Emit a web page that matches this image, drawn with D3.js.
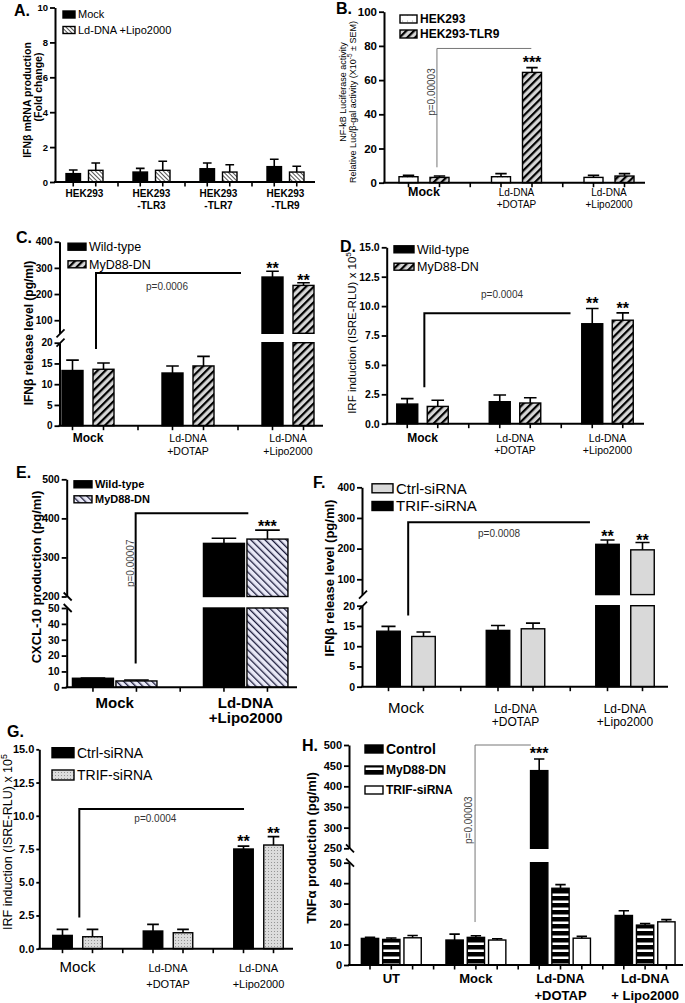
<!DOCTYPE html>
<html>
<head>
<meta charset="utf-8">
<script src="https://cdn.jsdelivr.net/npm/d3@7"></script>
<style>
  body { margin: 0; background: #fff; }
  svg { display: block; }
  text { font-family: "Liberation Sans", Arial, sans-serif; fill: #000; }
</style>
</head>
<body>
<script>
// ---- data ----

// A. IFNb mRNA, fold change
const aGroups = ["HEK293", "HEK293\n-TLR3", "HEK293\n-TLR7", "HEK293\n-TLR9"];
const aMock = [0.48, 0.57, 0.76, 0.88];
const aMockErr = [0.21, 0.21, 0.33, 0.42];
const aLipo = [0.67, 0.67, 0.57, 0.57];
const aLipoErr = [0.42, 0.52, 0.42, 0.33];

// B. NF-kB luciferase
const bGroups = ["Mock", "Ld-DNA\n+DOTAP", "Ld-DNA\n+Lipo2000"];
const bHek = [3.5, 3.5, 3.1];
const bHekErr = [0.8, 1.8, 1.2];
const bTlr9 = [3.1, 64.5, 3.9];
const bTlr9Err = [0.8, 2.8, 1.4];

// C. IFNb release (pg/ml)
const cGroups = ["Mock", "Ld-DNA\n+DOTAP", "Ld-DNA\n+Lipo2000"];
const cWt = [13.3, 12.7, 265];
const cWtErr = [2.5, 1.7, 22];
const cMyd = [13.6, 14.4, 233];
const cMydErr = [1.5, 2.3, 10];

// D. IRF induction
const dGroups = ["Mock", "Ld-DNA\n+DOTAP", "Ld-DNA\n+Lipo2000"];
const dWt = [1.67, 1.87, 8.5];
const dWtErr = [0.46, 0.57, 1.3];
const dMyd = [1.47, 1.76, 8.8];
const dMydErr = [0.53, 0.45, 0.62];

// E. CXCL-10 production
const eGroups = ["Mock", "Ld-DNA\n+Lipo2000"];
const eWt = [5.7, 336];
const eWtErr = [0.2, 13];
const eMyd = [4.0, 347];
const eMydErr = [0.6, 23];

// F. IFNb release, siRNA
const fGroups = ["Mock", "Ld-DNA\n+DOTAP", "Ld-DNA\n+Lipo2000"];
const fFirst = [13.7, 13.9, 214];
const fFirstErr = [1.2, 1.2, 14];
const fSecond = [12.4, 14.3, 196];
const fSecondErr = [1.1, 1.4, 24];

// G. IRF induction, siRNA
const gGroups = ["Mock", "Ld-DNA\n+DOTAP", "Ld-DNA\n+Lipo2000"];
const gCtrl = [1.0, 1.33, 7.5];
const gCtrlErr = [0.45, 0.5, 0.22];
const gTrif = [0.9, 1.2, 7.8];
const gTrifErr = [0.55, 0.25, 0.63];

// H. TNFa production
const hGroups = ["UT", "Mock", "Ld-DNA\n+DOTAP", "Ld-DNA\n+ Lipo2000"];
const hControl = [13.0, 12.2, 438, 24.2];
const hControlErr = [0.5, 2.9, 28, 2.3];
const hMyd = [12.5, 13.5, 37.5, 19.5];
const hMydErr = [0.7, 0.8, 1.8, 0.8];
const hTrif = [13.3, 12.2, 13.1, 21.1];
const hTrifErr = [1.1, 0.6, 0.9, 1.1];

// ---- drawing ----
const SANS = '"Liberation Sans", Arial, sans-serif';
const NARROW = '"Liberation Sans Narrow", "DejaVu Sans Condensed", sans-serif';

const svg = d3.select("body").append("svg").attr("width", 685).attr("height", 1003);
const defs = svg.append("defs");

function stripes(id, size, angle, bg, color, lw) {
  const p = defs.append("pattern").attr("id", id)
    .attr("patternUnits", "userSpaceOnUse")
    .attr("width", size).attr("height", size)
    .attr("patternTransform", `rotate(${angle})`);
  p.append("rect").attr("width", size).attr("height", size).attr("fill", bg);
  p.append("rect").attr("width", lw).attr("height", size).attr("fill", color);
}
function dots(id, sx, sy, bg, color, r) {
  const p = defs.append("pattern").attr("id", id)
    .attr("patternUnits", "userSpaceOnUse")
    .attr("width", sx).attr("height", sy);
  p.append("rect").attr("width", sx).attr("height", sy).attr("fill", bg);
  p.append("circle").attr("cx", sx / 2).attr("cy", sy / 2).attr("r", r).attr("fill", color);
}
stripes("hatchA", 3, -45, "#fff", "#555", 1);
stripes("hatchFwd", 5.5, 45, "#d6d6d6", "#000", 2.2);
stripes("hatchE", 5, -45, "#e9e9f7", "#1c1c3c", 1.3);
dots("dotsB", 5, 6, "#fff", "#999", 0.6);
dots("dotsG", 3, 3, "#dcdcdc", "#888", 0.55);
{
  const p = defs.append("pattern").attr("id", "stripesH")
    .attr("patternUnits", "userSpaceOnUse").attr("width", 10).attr("height", 7);
  p.append("rect").attr("width", 10).attr("height", 7).attr("fill", "#fff");
  p.append("rect").attr("width", 10).attr("height", 4.5).attr("fill", "#000");
}

function drawPanel(p) {
  const g = svg.append("g");
  const n = p.series.length;
  const x = d3.scaleBand().domain(p.groups).range(p.band);
  const mid = k => x(k) + x.bandwidth() / 2;
  const bx = (k, i) => mid(k) + (i - (n - 1) / 2) * p.pitch;
  const pos = t => mid(p.groups[0]) + t * x.step();
  const yLo = d3.scaleLinear().domain(p.low).range(p.lowRange);
  const yHi = p.high ? d3.scaleLinear().domain(p.high).range(p.highRange) : null;
  const y = v => (yHi && v > p.low[1]) ? yHi(v) : yLo(v);
  const y0 = yLo(0);
  const tk = p.tickLen || 5;

  // bars
  p.series.forEach((s, i) => {
    const rows = p.groups.map((k, j) => ({ k, v: s.values[j], e: s.errors[j] }));
    const sg = g.append("g");
    sg.selectAll("rect.lo").data(rows).join("rect").attr("class", "lo")
      .attr("x", d => bx(d.k, i) - p.barW / 2).attr("width", p.barW)
      .attr("y", d => yLo(Math.min(d.v, p.low[1])))
      .attr("height", d => y0 - yLo(Math.min(d.v, p.low[1])))
      .attr("fill", s.fill).attr("stroke", "#000").attr("stroke-width", 1.4);
    if (yHi) {
      sg.selectAll("rect.hi").data(rows.filter(d => d.v > p.low[1])).join("rect").attr("class", "hi")
        .attr("x", d => bx(d.k, i) - p.barW / 2).attr("width", p.barW)
        .attr("y", d => yHi(d.v))
        .attr("height", d => yHi(p.high[0]) - yHi(d.v))
        .attr("fill", s.fill).attr("stroke", "#000").attr("stroke-width", 1.4);
    }
    sg.selectAll("path.err").data(rows).join("path").attr("class", "err")
      .attr("d", d => {
        const cx = bx(d.k, i), c = p.barW * 0.3;
        const t = y(d.v + d.e);
        return `M${cx},${y(d.v)}V${t}M${cx - c},${t}H${cx + c}`;
      })
      .attr("stroke", "#000").attr("stroke-width", 1.6).attr("fill", "none");
  });

  // y axis
  const styleAxis = sel => {
    sel.select(".domain").attr("stroke-width", 2);
    sel.selectAll(".tick line").attr("stroke-width", 1.8);
    sel.selectAll(".tick text").attr("font-family", SANS).attr("font-weight", "bold")
      .attr("font-size", p.tickSize);
  };
  const ax = g.append("g").attr("transform", `translate(${p.axisX},0)`);
  ax.append("g").call(d3.axisLeft(yLo).tickValues(p.lowTicks).tickFormat(d3.format(p.fmt))
    .tickSize(tk).tickPadding(2).tickSizeOuter(0)).call(styleAxis);
  if (yHi) {
    ax.append("g").call(d3.axisLeft(yHi).tickValues(p.highTicks).tickFormat(d3.format(p.fmt))
      .tickSize(tk).tickPadding(2).tickSizeOuter(0)).call(styleAxis);
    const sl = p.slash === "/" ? -1 : 1;
    [yLo(p.low[1]), yHi(p.high[0])].forEach(yb => {
      ax.append("path").attr("d", `M-3,${yb - 4 * sl}L5,${yb + 4 * sl}`)
        .attr("stroke", "#000").attr("stroke-width", 1.8);
    });
  }

  // x axis with ticks under bars and between groups
  g.append("line").attr("x1", p.axisX - 1).attr("x2", p.xEnd).attr("y1", y0).attr("y2", y0)
    .attr("stroke", "#000").attr("stroke-width", 2);
  const tx = [];
  p.groups.forEach((k, j) => {
    p.series.forEach((s, i) => tx.push(bx(k, i)));
    if (j > 0) tx.push(x(k));
  });
  g.selectAll("line.xt").data(tx).join("line").attr("class", "xt")
    .attr("x1", d => d).attr("x2", d => d).attr("y1", y0).attr("y2", y0 + 4.5)
    .attr("stroke", "#000").attr("stroke-width", 1.6);

  // category labels
  p.groups.forEach(k => {
    const lines = k.split("\n");
    lines.forEach((t, li) => {
      const single = lines.length === 1;
      g.append("text").attr("x", mid(k)).attr("y", li === 0 ? p.lab.y1 : p.lab.y2)
        .attr("text-anchor", "middle")
        .attr("font-family", p.lab.family || SANS)
        .attr("font-weight", single ? p.lab.w1 : p.lab.w2)
        .attr("font-size", single ? p.lab.s1 : p.lab.s2)
        .text(t);
    });
  });

  // panel letter
  g.append("text").attr("x", p.letter[1]).attr("y", p.letter[2])
    .attr("font-weight", "bold").attr("font-size", 16).text(p.letter[0]);

  // y title
  p.ytitle.forEach(t => {
    const el = g.append("text").attr("transform", `translate(${t.x},${t.y}) rotate(-90)`)
      .attr("text-anchor", "middle").attr("dy", "0.35em")
      .attr("font-family", t.family || SANS)
      .attr("font-weight", t.w || "bold").attr("font-size", t.s);
    if (t.sup) {
      el.append("tspan").text(t.text);
      el.append("tspan").attr("font-size", t.s * 0.7).attr("dy", -t.s * 0.4).text(t.sup);
      if (t.tail) el.append("tspan").attr("dy", t.s * 0.4).text(t.tail);
    } else el.text(t.text);
  });

  // significance bracket
  const b = p.bracket;
  if (b) {
    g.append("path")
      .attr("d", `M${pos(b.from)},${y(b.bottom)}V${y(b.top)}H${pos(b.to)}`)
      .attr("fill", "none").attr("stroke", b.color).attr("stroke-width", b.width);
  }
  const pt = p.ptext;
  if (pt && pt.rotate) {
    g.append("text").attr("transform", `translate(${pos(pt.at)},${y(pt.v)}) rotate(-90)`)
      .attr("text-anchor", "middle").attr("dy", "0.35em")
      .attr("font-size", pt.s).style("fill", "#444").text(pt.text);
  } else if (pt) {
    g.append("text").attr("x", pos(pt.at)).attr("y", y(pt.v))
      .attr("text-anchor", "middle").attr("font-size", pt.s).style("fill", "#333").text(pt.text);
  }
  p.stars.forEach(st => {
    const s = p.series[st.s], j = st.g;
    g.append("text").attr("x", bx(p.groups[j], st.s)).attr("y", y(s.values[j] + s.errors[j]) + st.dy)
      .attr("text-anchor", "middle").attr("font-weight", "bold").attr("font-size", st.size)
      .text(st.text);
  });

  // legend
  const L = p.legend;
  L.items.forEach((it, i) => {
    const cy = L.y[i];
    g.append("rect").attr("x", L.x).attr("y", cy - L.h / 2).attr("width", L.w).attr("height", L.h)
      .attr("fill", it.fill).attr("stroke", "#000").attr("stroke-width", 1.4);
    g.append("text").attr("x", L.x + L.w + 3).attr("y", cy).attr("dy", "0.36em")
      .attr("font-family", L.family || SANS).attr("font-weight", it.w || L.weight)
      .attr("font-size", it.s || L.s).text(it.label);
  });
}

// A
drawPanel({
  groups: aGroups, band: [51, 319], pitch: 22.5, barW: 14.5,
  series: [
    { values: aMock, errors: aMockErr, fill: "#000" },
    { values: aLipo, errors: aLipoErr, fill: "url(#hatchA)" }
  ],
  axisX: 55, xEnd: 315, low: [0, 10], lowRange: [182, 7.5],
  lowTicks: [0, 2, 4, 6, 8, 10], fmt: "d", tickSize: 9.5,
  lab: { y1: 197, y2: 209, s1: 10, s2: 10, w1: "bold", w2: "bold" },
  letter: ["A.", 14, 16],
  ytitle: [
    { text: "IFNβ mRNA production", x: 27.5, y: 100, s: 10.5 },
    { text: "(Fold change)", x: 38.5, y: 87, s: 10.5 }
  ],
  stars: [],
  legend: {
    x: 63, y: [14.5, 30], w: 12, h: 7, s: 11, weight: "normal", family: NARROW,
    items: [{ fill: "#000", label: "Mock" }, { fill: "url(#hatchA)", label: "Ld-DNA +Lipo2000" }]
  }
});

// B
drawPanel({
  groups: bGroups, band: [377.75, 655.25], pitch: 31, barW: 19,
  series: [
    { values: bHek, errors: bHekErr, fill: "url(#dotsB)" },
    { values: bTlr9, errors: bTlr9Err, fill: "url(#hatchFwd)" }
  ],
  axisX: 384, xEnd: 645, low: [0, 100], lowRange: [182.7, 11.7],
  lowTicks: d3.range(0, 101, 20), fmt: "d", tickSize: 11.5,
  lab: { y1: 196, y2: 208, s1: 12.5, s2: 10, w1: "bold", w2: "normal" },
  letter: ["B.", 336, 14],
  ytitle: [
    { text: "NF-kB Luciferase activity", x: 343, y: 92, s: 9, w: "normal" },
    { text: "Relative Luc/β-gal activity (X10", sup: "-5", tail: " ± SEM)", x: 352.5, y: 102, s: 9, w: "normal" }
  ],
  bracket: { from: 0.14, to: 1.16, bottom: 9, top: 78.5, color: "#777", width: 1 },
  ptext: { text: "p=0.00003", at: 0.076, v: 53, s: 10, rotate: true },
  stars: [{ g: 1, s: 1, text: "***", size: 16, dy: 0 }],
  legend: {
    x: 400, y: [19, 34], w: 17, h: 8, s: 12, weight: "bold",
    items: [{ fill: "url(#dotsB)", label: "HEK293" }, { fill: "url(#hatchFwd)", label: "HEK293-TLR9" }]
  }
});

// C
drawPanel({
  groups: cGroups, band: [38, 338], pitch: 31, barW: 21,
  series: [
    { values: cWt, errors: cWtErr, fill: "#000" },
    { values: cMyd, errors: cMydErr, fill: "url(#hatchFwd)" }
  ],
  axisX: 59.5, xEnd: 323,
  low: [0, 20], lowRange: [425.7, 342.7], high: [50, 400], highRange: [333.3, 241.7],
  lowTicks: [0, 5, 10, 15, 20], highTicks: [100, 200, 300, 400], fmt: "d", tickSize: 10,
  slash: "/",
  lab: { y1: 442, y2: 455, s1: 12, s2: 10.5, w1: "bold", w2: "normal" },
  letter: ["C.", 16, 243],
  ytitle: [{ text: "IFNβ release level (pg/ml)", x: 29, y: 333, s: 12 }],
  bracket: { from: 0.08, to: 1.53, bottom: 18.5, top: 280, color: "#000", width: 2 },
  ptext: { text: "p=0.0006", at: 0.79, v: 214, s: 10 },
  stars: [{ g: 2, s: 0, text: "**", size: 16, dy: 3 }, { g: 2, s: 1, text: "**", size: 16, dy: 3 }],
  legend: {
    x: 68, y: [246.7, 264.3], w: 18, h: 7, s: 12.5, weight: "normal",
    items: [{ fill: "#000", label: "Wild-type" }, { fill: "url(#hatchFwd)", label: "MyD88-DN" }]
  }
});

// D
drawPanel({
  groups: dGroups, band: [376.25, 653.75], pitch: 30.5, barW: 21,
  series: [
    { values: dWt, errors: dWtErr, fill: "#000" },
    { values: dMyd, errors: dMydErr, fill: "url(#hatchFwd)" }
  ],
  axisX: 386.7, xEnd: 644, low: [0, 15], lowRange: [423.7, 247.3],
  lowTicks: d3.range(0, 15.1, 2.5), fmt: ".1f", tickSize: 10.5,
  lab: { y1: 442, y2: 454, s1: 12, s2: 10.5, w1: "bold", w2: "normal" },
  letter: ["D.", 340, 252],
  ytitle: [{ text: "IRF induction (ISRE-RLU) x 10", sup: "5", x: 351.5, y: 333, s: 11.5, w: "normal" }],
  bracket: { from: 0.02, to: 1.6, bottom: 3.1, top: 9.4, color: "#000", width: 2 },
  ptext: { text: "p=0.0004", at: 0.86, v: 10.7, s: 10 },
  stars: [{ g: 2, s: 0, text: "**", size: 16, dy: 1 }, { g: 2, s: 1, text: "**", size: 16, dy: 1 }],
  legend: {
    x: 394, y: [249.3, 266.7], w: 20, h: 7, s: 12.5, weight: "normal",
    items: [{ fill: "#000", label: "Wild-type" }, { fill: "url(#hatchFwd)", label: "MyD88-DN" }]
  }
});

// E
drawPanel({
  groups: eGroups, band: [49.2, 311.2], pitch: 43.5, barW: 41,
  series: [
    { values: eWt, errors: eWtErr, fill: "#000" },
    { values: eMyd, errors: eMydErr, fill: "url(#hatchE)" }
  ],
  axisX: 66.7, xEnd: 297,
  low: [0, 50], lowRange: [687.3, 608], high: [200, 500], highRange: [596.5, 479.3],
  lowTicks: d3.range(0, 51, 10), highTicks: [200, 300, 400, 500], fmt: "d", tickSize: 10.5,
  slash: "\\",
  lab: { y1: 708, y2: 723, s1: 15, s2: 15, w1: "bold", w2: "bold" },
  letter: ["E.", 16, 478],
  ytitle: [{ text: "CXCL-10 production (pg/ml)", x: 36, y: 577, s: 13 }],
  bracket: { from: 0.16, to: 1.02, bottom: 15, top: 413, color: "#000", width: 2 },
  ptext: { text: "p=0.00007", at: 0.117, v: 285, s: 10, rotate: true },
  stars: [{ g: 1, s: 1, text: "***", size: 16, dy: 2 }],
  legend: {
    x: 74, y: [484.3, 499.3], w: 18, h: 7, s: 11, weight: "bold",
    items: [{ fill: "#000", label: "Wild-type" }, { fill: "url(#hatchE)", label: "MyD88-DN" }]
  }
});

// F
drawPanel({
  groups: fGroups, band: [351.25, 679.75], pitch: 35, barW: 23.5,
  series: [
    { values: fFirst, errors: fFirstErr, fill: "#000" },
    { values: fSecond, errors: fSecondErr, fill: "#d9d9d9" }
  ],
  axisX: 362, xEnd: 668,
  low: [0, 20], lowRange: [686.7, 605.7], high: [50, 400], highRange: [594.6, 487.3],
  lowTicks: [0, 5, 10, 15, 20], highTicks: [100, 200, 300, 400], fmt: "d", tickSize: 10.5,
  slash: "/",
  lab: { y1: 713, y2: 726, s1: 15, s2: 12, w1: "normal", w2: "normal" },
  letter: ["F.", 313, 488],
  ytitle: [{ text: "IFNβ release level (pg/ml)", x: 329, y: 578, s: 13 }],
  bracket: { from: 0.02, to: 1.68, bottom: 17.6, top: 286, color: "#000", width: 2 },
  ptext: { text: "p=0.0008", at: 0.85, v: 239, s: 10 },
  stars: [{ g: 2, s: 0, text: "**", size: 16, dy: 2 }, { g: 2, s: 1, text: "**", size: 16, dy: 4 }],
  legend: {
    x: 372, y: [488.3, 506], w: 21, h: 9, s: 15, weight: "normal",
    items: [{ fill: "#d9d9d9", label: "Ctrl-siRNA" }, { fill: "#000", label: "TRIF-siRNA" }]
  }
});

// G
drawPanel({
  groups: gGroups, band: [32.25, 303.75], pitch: 30, barW: 19.5,
  series: [
    { values: gCtrl, errors: gCtrlErr, fill: "#000" },
    { values: gTrif, errors: gTrifErr, fill: "url(#dotsG)" }
  ],
  axisX: 39.3, xEnd: 293, low: [0, 15], lowRange: [948.7, 749.3],
  lowTicks: d3.range(0, 15.1, 2.5), fmt: ".1f", tickSize: 11, tickLen: 3,
  lab: { y1: 972, y2: 988, s1: 15, s2: 11, w1: "normal", w2: "normal", family: NARROW },
  letter: ["G.", 7, 737],
  ytitle: [{ text: "IRF induction (ISRE-RLU) x 10", sup: "5", x: 8, y: 842, s: 12.5, w: "normal" }],
  bracket: { from: 0.02, to: 1.84, bottom: 2.35, top: 10.5, color: "#000", width: 2 },
  ptext: { text: "p=0.0004", at: 0.86, v: 9.55, s: 10 },
  stars: [{ g: 2, s: 0, text: "**", size: 16, dy: 1 }, { g: 2, s: 1, text: "**", size: 16, dy: 2 }],
  legend: {
    x: 52, y: [752.7, 775], w: 22, h: 10, s: 14, weight: "normal", family: NARROW,
    items: [{ fill: "#000", label: "Ctrl-siRNA" }, { fill: "url(#dotsG)", label: "TRIF-siRNA" }]
  }
});

// H
drawPanel({
  groups: hGroups, band: [349, 687.4], pitch: 21.3, barW: 17.3,
  series: [
    { values: hControl, errors: hControlErr, fill: "#000" },
    { values: hMyd, errors: hMydErr, fill: "url(#stripesH)" },
    { values: hTrif, errors: hTrifErr, fill: "#fff" }
  ],
  axisX: 349, xEnd: 683,
  low: [0, 50], lowRange: [965, 862.7], high: [250, 500], highRange: [848.3, 745],
  lowTicks: d3.range(0, 51, 10), highTicks: d3.range(250, 501, 50), fmt: "d", tickSize: 11,
  slash: "\\",
  lab: { y1: 983, y2: 1000, s1: 13, s2: 13, w1: "bold", w2: "bold" },
  letter: ["H.", 302, 751],
  ytitle: [{ text: "TNFα production (pg/ml)", x: 311, y: 848, s: 13 }],
  bracket: { from: 0.99, to: 1.65, bottom: 21, top: 500, color: "#777", width: 1 },
  ptext: { text: "p=0.00003", at: 0.918, v: 318, s: 10, rotate: true },
  stars: [{ g: 2, s: 0, text: "***", size: 16, dy: 0 }],
  legend: {
    x: 365, y: [749, 770, 790], w: 18, h: 8, s: 12, weight: "bold",
    items: [
      { fill: "#000", label: "Control", s: 14 },
      { fill: "url(#stripesH)", label: "MyD88-DN" },
      { fill: "#fff", label: "TRIF-siRNA" }
    ]
  }
});
</script>
</body>
</html>
